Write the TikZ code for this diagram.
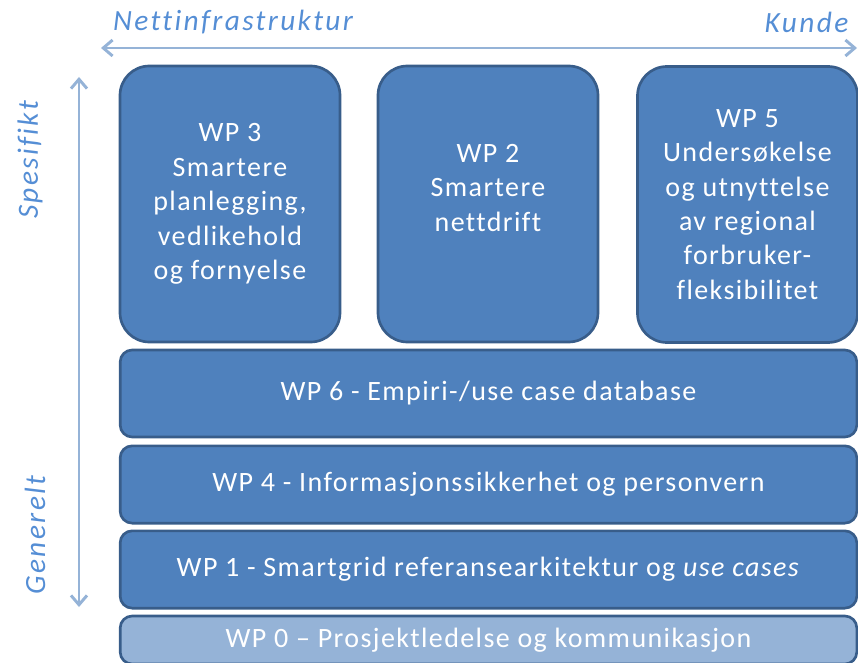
\documentclass[tikz,border=0pt]{standalone}
\usepackage{fontspec}
\setmainfont{Carlito}[LetterSpace=5, Ligatures=NoCommon]
\newfontfamily\axisfont{Carlito}[LetterSpace=8, Ligatures=NoCommon]
\usetikzlibrary{arrows.meta}

\definecolor{wpfill}{HTML}{4F81BD}
\definecolor{wpline}{HTML}{385D8A}
\definecolor{wplight}{HTML}{95B3D7}
\definecolor{axisblue}{HTML}{95B3D7}
\definecolor{labelblue}{HTML}{558ED5}

\tikzset{
  wpbig/.style={draw=wpline, fill=wpfill, line width=2pt, rounded corners=22pt,
    minimum width=165pt, minimum height=207pt, align=center, text=white,
    font=\fontsize{21}{25.8}\selectfont, inner sep=0pt},
  wpbar/.style={draw=wpline, fill=wpfill, line width=2pt, rounded corners=9pt,
    minimum width=552.5pt, minimum height=58pt, text=white,
    font=\fontsize{21}{25.8}\selectfont, inner sep=0pt},
  axis/.style={axisblue, line width=2.2pt, {Straight Barb[length=7pt,width=12pt]}-{Straight Barb[length=7pt,width=12pt]}},
  axislabel/.style={labelblue, font=\axisfont\fontsize{22}{25}\selectfont\itshape}
}

\begin{document}
\begin{tikzpicture}[x=0.75pt,y=-0.75pt]
  \useasboundingbox (0,0) rectangle (858,663);

  % axes
  \coordinate (L) at (101,48);
  \coordinate (R) at (857,48);
  \coordinate (T) at (79,77);
  \coordinate (B) at (79,607);
  \draw[axis] (L) -- (R);
  \draw[axis] (T) -- (B);

  \node[axislabel] (infra) at (233,22) {Nettinfrastruktur};
  \node[axislabel, anchor=east] (kunde) at (853,22) {Kunde};
  \node[axislabel, rotate=90] (spes) at (30,160) {Spesifikt};
  \node[axislabel, rotate=90] (gen) at (35,535) {Generelt};

  % work packages
  \node[wpbig] (wp3) at (230,204)
    {WP 3\\Smartere\\planlegging,\\vedlikehold\\og fornyelse};
  \node[wpbig] (wp2) at (488,204) {};
  \node[align=center, text=white, font=\fontsize{21}{25.8}\selectfont] (wp2txt) at (488,188)
    {WP 2\\Smartere\\nettdrift};
  \node[wpbig] (wp5) at (747.5,204.5)
    {WP 5\\Undersøkelse\\og utnyttelse\\av regional\\forbruker-\\fleksibilitet};

  \node[wpbar, minimum height=65.25pt] (wp6) at (488.5,393.5) {WP 6 - Empiri-/use case database};
  \node[wpbar] (wp4) at (488.5,484.5) {WP 4 - Informasjonssikkerhet og personvern};
  \node[wpbar] (wp1) at (488.5,569.5) {WP 1 - Smartgrid referansearkitektur og \textit{use cases}};
  \node[wpbar, fill=wplight, minimum height=36pt] (wp0) at (488.5,640) {WP 0 – Prosjektledelse og kommunikasjon};
\end{tikzpicture}
\end{document}
